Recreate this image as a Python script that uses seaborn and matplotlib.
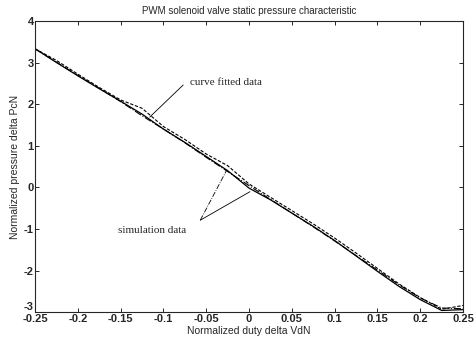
import numpy as np
import pandas as pd
import seaborn as sns
import matplotlib.pyplot as plt

# normalized duty delta VdN
duty = [-0.25, -0.225, -0.2, -0.175, -0.15, -0.125, -0.1, -0.075, -0.05, -0.025,
        0.0, 0.025, 0.05, 0.075, 0.1, 0.125, 0.15, 0.175, 0.2, 0.225, 0.25]

# simulation data (two runs) and curve fit, normalized pressure delta PcN
sim_solid = [3.33, 3.00, 2.68, 2.37, 2.07, 1.76, 1.40, 1.08, 0.74, 0.40,
             -0.02, -0.30, -0.62, -0.94, -1.28, -1.65, -2.02, -2.38, -2.70, -2.96, -2.94]
sim_dashed = [3.33, 3.05, 2.72, 2.40, 2.10, 1.90, 1.46, 1.15, 0.80, 0.52,
              0.08, -0.24, -0.56, -0.88, -1.22, -1.58, -1.95, -2.32, -2.65, -2.93, -2.84]
fitted = [3.33, 3.01, 2.69, 2.38, 2.06, 1.72, 1.40, 1.07, 0.72, 0.38,
          0.04, -0.29, -0.62, -0.95, -1.29, -1.64, -1.99, -2.34, -2.66, -2.90, -2.92]

xticks = [-0.25, -0.2, -0.15, -0.1, -0.05, 0, 0.05, 0.1, 0.15, 0.2, 0.25]
xtick_labels = ["-0.25", "-0.2", "-0.15", "-0.1", "-0.05", "0", "0.05", "0.1", "0.15", "0.2", "0.25"]
yticks = [-3, -2, -1, 0, 1, 2, 3, 4]

sns.set_style("ticks")
plt.rcParams["font.family"] = ["Liberation Sans", "DejaVu Sans"]
plt.rcParams["xtick.direction"] = "in"
plt.rcParams["ytick.direction"] = "in"

fig = plt.figure(figsize=(4.74, 3.43), dpi=100)
ax = fig.add_axes([0.074, 0.09, 0.903, 0.849])

sns.lineplot(x=duty, y=sim_solid, ax=ax, color="black", linewidth=0.9, linestyle="-")
sns.lineplot(x=duty, y=sim_dashed, ax=ax, color="black", linewidth=0.8, linestyle=(0, (3, 1.5)))
sns.lineplot(x=duty, y=fitted, ax=ax, color="black", linewidth=0.8, linestyle="-.")

ax.set_xlim(-0.25, 0.25)
ax.set_ylim(-3, 4)
ax.set_xticks(xticks)
ax.set_xticklabels(xtick_labels, fontweight="bold")
ax.set_yticks(yticks)
ax.set_yticklabels([str(v) for v in yticks], fontweight="bold")
ax.tick_params(top=True, right=True, length=3, width=0.7, labelsize=8, pad=1)
ax.get_yticklabels()[0].set_va("bottom")
for s in ax.spines.values():
    s.set_linewidth(0.8)

ax.set_title("PWM solenoid valve static pressure characteristic", fontsize=7, pad=5)
ax.set_xlabel("Normalized duty delta VdN", fontsize=7.5, labelpad=2)
ax.set_ylabel("Normalized pressure delta PcN", fontsize=7.5, labelpad=3)

serif = ["Liberation Serif", "DejaVu Serif"]
ax.text(-0.069, 2.53, "curve fitted data", family=serif, fontsize=8, va="center")
ax.plot([-0.077, -0.116], [2.46, 1.69], color="black", linewidth=0.6)

ax.text(-0.153, -1.03, "simulation data", family=serif, fontsize=8, va="center")
ax.plot([-0.057, -0.026], [-0.79, 0.42], color="black", linewidth=0.6, linestyle="-.")
ax.plot([-0.057, 0.001], [-0.79, -0.105], color="black", linewidth=0.6)

fig.savefig("out.png", dpi=100)
